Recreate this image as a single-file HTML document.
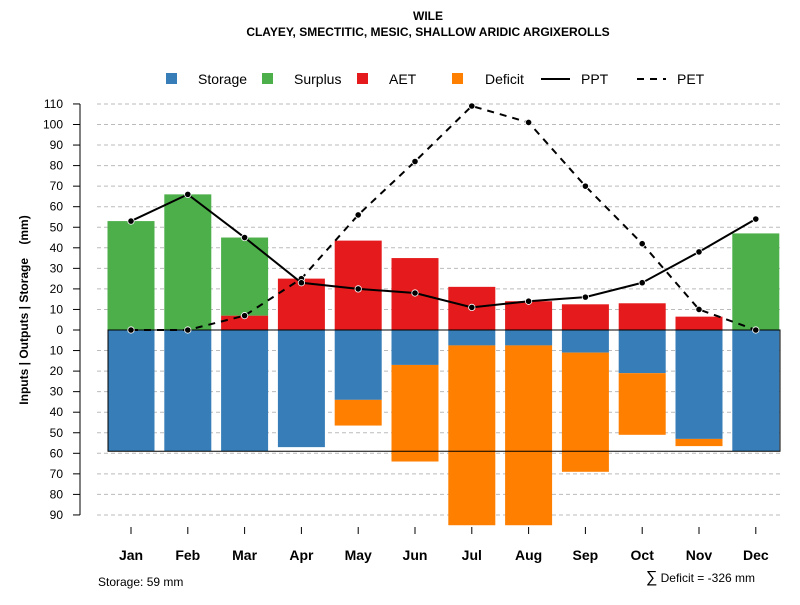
<!DOCTYPE html>
<html><head><meta charset="utf-8"><style>
body{margin:0;background:#fff}
svg text{font-family:"Liberation Sans",sans-serif}
</style></head><body>
<svg id="c" width="800" height="600" xmlns="http://www.w3.org/2000/svg">
<text x="428" y="20" text-anchor="middle" font-size="12" font-weight="bold">WILE</text>
<text x="428" y="36" text-anchor="middle" font-size="12" font-weight="bold">CLAYEY, SMECTITIC, MESIC, SHALLOW ARIDIC ARGIXEROLLS</text>
<g font-size="14">
<rect x="166" y="73" width="11" height="11" fill="#377eb8"/><text x="198" y="84">Storage</text>
<rect x="262" y="73" width="11" height="11" fill="#4daf4a"/><text x="294" y="84">Surplus</text>
<rect x="357" y="73" width="11" height="11" fill="#e41a1c"/><text x="389" y="84">AET</text>
<rect x="452" y="73" width="11" height="11" fill="#ff7f00"/><text x="485" y="84">Deficit</text>
<line x1="541" y1="79" x2="570" y2="79" stroke="#000" stroke-width="2"/><text x="581" y="84">PPT</text>
<line x1="637" y1="79" x2="666" y2="79" stroke="#000" stroke-width="2" stroke-dasharray="7,6"/><text x="677" y="84">PET</text>
</g>
<text transform="translate(28,310) rotate(-90)" text-anchor="middle" font-size="12" font-weight="bold" style="white-space:pre">Inputs | Outputs | Storage    (mm)</text>
<text x="98" y="586" font-size="12">Storage: 59 mm</text>
<text x="755" y="582" text-anchor="end" font-size="12"><tspan font-size="16">∑</tspan> Deficit = -326 mm</text>
<g id="grid"></g><g id="bars"></g><g id="lines"></g><g id="axes"></g>
</svg>
<script>
const months=["Jan","Feb","Mar","Apr","May","Jun","Jul","Aug","Sep","Oct","Nov","Dec"];
const aet=[0,0,7,25,43.5,35,21,14,12.5,13,6.5,0];
const surplus=[53,66,38,0,0,0,0,0,0,0,0,47];
const storage=[59,59,59,57,34,17,7.5,7.5,11,21,53,59];
const deficit=[0,0,0,0,12.5,47,87.5,87.5,58,30,3.5,0];
const ppt=[53,66,45,23,20,18,11,14,16,23,38,54];
const pet=[0,0,7,25,56,82,109,101,70,42,10,0];
const yTicks=[110,100,90,80,70,60,50,40,30,20,10,0,-10,-20,-30,-40,-50,-60,-70,-80,-90];
const maxStorage=59;
const NS="http://www.w3.org/2000/svg";
const y=v=>330-v*2.055;
const x=i=>131+i*56.8;
const bw=47;
function mk(t,a,p){const e=document.createElementNS(NS,t);for(const k in a)e.setAttribute(k,a[k]);document.getElementById(p).appendChild(e);return e;}
yTicks.forEach(t=>{
  if(t!==0){const g=mk('line',{x1:97,x2:780,y1:y(t),y2:y(t),stroke:'#bbb','stroke-dasharray':'4,3'},'grid');
  
  }
  const tk=mk('line',{x1:73,x2:80,y1:y(t),y2:y(t),stroke:'#000'},'axes');
  
  
  const l=mk('text',{x:63,y:y(t)+4,'text-anchor':'end','font-size':12},'axes');l.textContent=Math.abs(t);
  
  
});
const ax=mk('line',{x1:80,x2:80,y1:y(110),y2:y(-90),stroke:'#000'},'axes');


function bar(i,v0,v1,c,n){if(v1===v0)return;const r=mk('rect',{x:x(i)-bw/2,y:Math.min(y(v0),y(v1)),width:bw,height:Math.abs(y(v1)-y(v0)),fill:c},'bars');
  
  }
months.forEach((m,i)=>{
  bar(i,0,aet[i],'#e41a1c','aet');
  bar(i,aet[i],aet[i]+surplus[i],'#4daf4a','surplus');
  bar(i,0,-storage[i],'#377eb8','storage');
  bar(i,-storage[i],-storage[i]-deficit[i],'#ff7f00','deficit');
  const tk=mk('line',{x1:x(i),x2:x(i),y1:527,y2:534,stroke:'#000'},'axes');
  
  
  const t=mk('text',{x:x(i),y:560,'text-anchor':'middle','font-size':14,'font-weight':'bold'},'axes');t.textContent=m;
  
  
});
const box=mk('rect',{x:108,y:y(0),width:672,height:y(-maxStorage)-y(0),fill:'none',stroke:'#000','stroke-width':1},'bars');


function series(d,n,dash){
  const p=mk('polyline',{points:d.map((v,i)=>x(i)+','+y(v)).join(' '),fill:'none',stroke:'#000','stroke-width':2,'stroke-dasharray':dash},'lines');
  
  
  d.forEach((v,i)=>{const c=mk('circle',{cx:x(i),cy:y(v),r:3.2,fill:'#000',stroke:'#fff','stroke-width':0.8},'lines');
    
    });
}
series(pet,'pet','7,6');
series(ppt,'ppt','none');
</script>
</body></html>
